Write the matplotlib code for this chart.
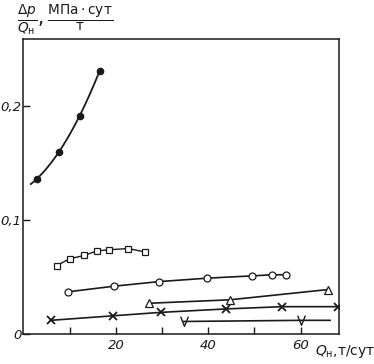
import numpy as np
import matplotlib.pyplot as plt
from matplotlib.path import Path

# data (Q_н in т/сут, Δp/Q_н in МПа·сут/т)
q_dots = [2.8, 7.5, 12.1, 16.4]
y_dots = [0.136, 0.160, 0.191, 0.231]

q_sq = [7.1, 9.9, 13.1, 15.9, 18.5, 22.6, 26.3]
y_sq = [0.060, 0.066, 0.069, 0.073, 0.074, 0.075, 0.072]

q_circ = [9.5, 19.6, 29.3, 39.7, 49.4, 53.9, 56.9]
y_circ = [0.037, 0.042, 0.046, 0.049, 0.051, 0.052, 0.052]

q_tri = [27.2, 44.6, 65.9]
y_tri = [0.027, 0.030, 0.039]

q_x = [5.8, 19.4, 29.7, 43.8, 56.0, 68.1]
y_x = [0.012, 0.016, 0.019, 0.022, 0.024, 0.024]

q_v = [34.7, 60.1]
y_v = [0.011, 0.012]
q_v_end = 66.4

ink = "#1a1a1a"

# open "V" marker like in the original drawing
v_mark = Path([(-0.8, 1), (0, -1), (0.8, 1)],
              [Path.MOVETO, Path.LINETO, Path.LINETO])

fig = plt.figure(figsize=(3.74, 3.64), dpi=100)
ax = fig.add_axes([0.0615, 0.0824, 0.8445, 0.8106])

# smooth curve through the filled dots, extended a bit to the left
coef = np.polyfit(q_dots, y_dots, 2)
qq = np.linspace(1.5, q_dots[-1], 60)
ax.plot(qq, np.polyval(coef, qq), color=ink, lw=1.3)
ax.plot(q_dots, y_dots, "o", color=ink, ms=4.5)

ax.plot(q_sq, y_sq, "-s", color=ink, lw=1.0, ms=5, mfc="white", mew=0.9)
ax.plot(q_circ, y_circ, "-o", color=ink, lw=1.2, ms=5, mfc="white", mew=0.9)
ax.plot(q_tri, y_tri, "-^", color=ink, lw=1.2, ms=6, mfc="white", mew=0.9)
ax.plot(q_x, y_x, "-x", color=ink, lw=1.2, ms=6, mew=1.3)
ax.plot(q_v + [q_v_end], y_v + [y_v[-1]], color=ink, lw=1.2)
ax.plot(q_v, y_v, ls="none", marker=v_mark, color=ink, ms=7, mfc="none", mew=1.0)

ax.set_xlim(-0.2, 68.3)
ax.set_ylim(0, 0.259)

ax.set_xticks([10, 20, 30, 40, 50, 60])
ax.set_xticklabels(["", "20", "", "40", "", "60"], style="italic")
ax.set_yticks([0, 0.1, 0.2])
ax.set_yticklabels(["0", "0,1", "0,2"], style="italic")
ax.tick_params(direction="in", length=5, width=1, colors=ink, labelsize=9.5,
               top=False, right=False)
ax.tick_params(axis="y", pad=1)

for s in ax.spines.values():
    s.set_color(ink)
    s.set_linewidth(1.1)

ax.text(1.02, -0.058, r"$Q_{\rm н}$,т/сут", transform=ax.transAxes,
        ha="center", va="center", fontsize=10, color=ink)

fig.text(0.045, 0.945, r"$\frac{\Delta p}{Q_{\rm н}},\frac{\rm МПа\cdot сут}{\rm т}$",
         ha="left", va="center", fontsize=14, color=ink)

fig.savefig("out.png", dpi=100)
